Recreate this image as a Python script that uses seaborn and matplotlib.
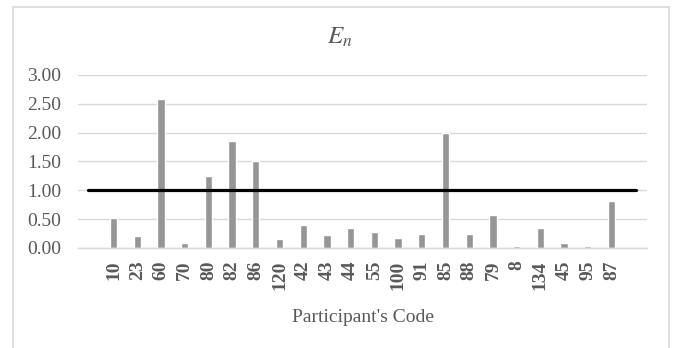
import matplotlib
matplotlib.use("Agg")
import matplotlib.pyplot as plt
import seaborn as sns
import pandas as pd
from matplotlib.patches import Rectangle

# participant codes in plotted order and their En scores
codes = ["10", "23", "60", "70", "80", "82", "86", "120", "42", "43", "44",
         "55", "100", "91", "85", "88", "79", "8", "134", "45", "95", "87"]
en_values = [0.52, 0.20, 2.58, 0.08, 1.25, 1.86, 1.51, 0.15, 0.40, 0.22, 0.34,
             0.28, 0.17, 0.25, 2.00, 0.24, 0.57, 0.03, 0.34, 0.09, 0.03, 0.82]
threshold = 1.0
y_ticks = [0.0, 0.5, 1.0, 1.5, 2.0, 2.5, 3.0]

df = pd.DataFrame({"code": codes, "En": en_values})

sns.set_style("white")
plt.rcParams["font.family"] = ["Liberation Serif", "DejaVu Serif"]
plt.rcParams["mathtext.fontset"] = "stix"

txt = "#595959"
grid = "#d9d9d9"

fig = plt.figure(figsize=(6.73, 3.48), dpi=100)
ax = fig.add_axes([0.1159, 0.2874, 0.8455, 0.4971])

sns.barplot(data=df, x="code", y="En", order=codes, color="#969696",
            saturation=1, width=0.31, ax=ax)
ax.axhline(threshold, xmin=0.018, xmax=0.981, color="black", lw=2.3, zorder=3)

ax.set_xlim(-1.5, 22.5)
ax.set_ylim(0, 3.0)
ax.set_yticks(y_ticks)
ax.set_yticklabels([f"{v:.2f}" for v in y_ticks])
ax.yaxis.grid(True, color=grid, lw=1)
ax.set_axisbelow(True)
for s in ["top", "right", "left"]:
    ax.spines[s].set_visible(False)
ax.spines["bottom"].set_color(grid)
ax.spines["bottom"].set_linewidth(1)

ax.tick_params(axis="y", length=0, pad=12, labelsize=14, labelcolor=txt)
ax.tick_params(axis="x", length=0, pad=9, labelsize=14, labelcolor=txt)
for lab in ax.get_xticklabels():
    lab.set_rotation(90)
    lab.set_fontweight("bold")

ax.set_xlabel("Participant's Code", fontsize=14, color=txt, labelpad=14)
ax.set_ylabel("")

fig.text(0.505, 0.893, r"$E_n$", fontsize=18, color=txt, ha="center", va="center")

fig.patches.append(Rectangle((0.019, -0.05), 0.975, 1.03, transform=fig.transFigure,
                             fill=False, edgecolor=grid, lw=1.2))

fig.savefig("out.png", dpi=100)
